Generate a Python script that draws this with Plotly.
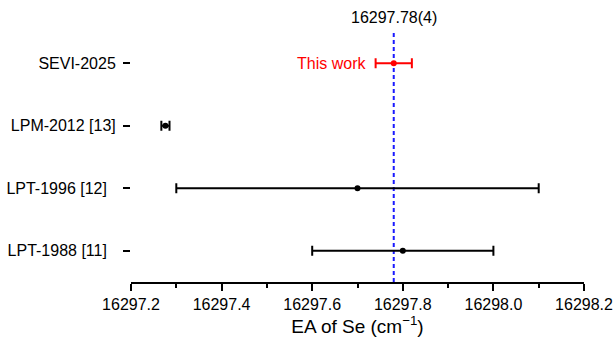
import plotly.graph_objects as go

labels = ["SEVI-2025", "LPM-2012 [13]", "LPT-1996 [12]\u00a0\u00a0", "LPT-1988 [11]\u00a0\u00a0"]
values = [16297.78, 16297.276, 16297.7, 16297.8]
errors = [0.04, 0.009, 0.4, 0.2]
colors = ["#ff0000", "#000000", "#000000", "#000000"]
ypos = [3, 2, 1, 0]
ref_value = 16297.78
ref_label = "16297.78(4)"
x_ticks = [16297.2, 16297.4, 16297.6, 16297.8, 16298.0, 16298.2]
x_ticktext = ["16297.2", "16297.4", "16297.6", "16297.8", "16298.0", "16298.2"]

FONT = "Liberation Sans, Arial, sans-serif"

fig = go.Figure()
for lab, v, e, c, y in zip(labels, values, errors, colors, ypos):
    fig.add_trace(go.Scatter(
        x=[v], y=[y], mode="markers",
        marker=dict(color=c, size=6),
        error_x=dict(type="data", array=[e], color=c, thickness=2, width=5),
        showlegend=False, name=lab,
    ))

fig.add_shape(type="line", xref="x", yref="paper", x0=ref_value, x1=ref_value,
              y0=0, y1=1, line=dict(color="#1a1aff", width=2, dash="4px,3px"), layer="below")

fig.add_annotation(x=ref_value, xref="x", y=1, yref="paper", yanchor="bottom",
                   text=ref_label, showarrow=False, yshift=4,
                   font=dict(family=FONT, size=16, color="black"))
fig.add_annotation(x=values[0] - errors[0], xref="x", y=ypos[0], yref="y",
                   xanchor="right", text="This work", showarrow=False, xshift=-8,
                   font=dict(family=FONT, size=16, color="#ff0000"))

fig.update_xaxes(range=[16297.2, 16298.2], tickvals=x_ticks, ticktext=x_ticktext,
                 showgrid=False, zeroline=False, showline=True, linecolor="black", linewidth=1.5,
                 ticks="outside", ticklen=7, tickwidth=1.5, tickcolor="black",
                 minor=dict(dtick=0.1, ticks="outside", ticklen=4, tickwidth=1.5, tickcolor="black"),
                 tickfont=dict(family=FONT, size=16, color="black"), automargin=False,
                 title=dict(text="EA of Se (cm<sup>−1</sup>)", font=dict(family=FONT, size=19, color="black"), standoff=6))
fig.update_yaxes(range=[-0.5, 3.5], tickvals=ypos, ticktext=labels,
                 showgrid=False, zeroline=False, showline=False, automargin=False,
                 ticks="outside", ticklen=7, tickwidth=1.5, tickcolor="black",
                 tickfont=dict(family=FONT, size=16, color="black"), ticklabelstandoff=4)

fig.update_layout(width=614, height=337, margin=dict(l=131, r=30, t=32, b=55),
                  plot_bgcolor="white", paper_bgcolor="white")

fig.write_html("out.html")
